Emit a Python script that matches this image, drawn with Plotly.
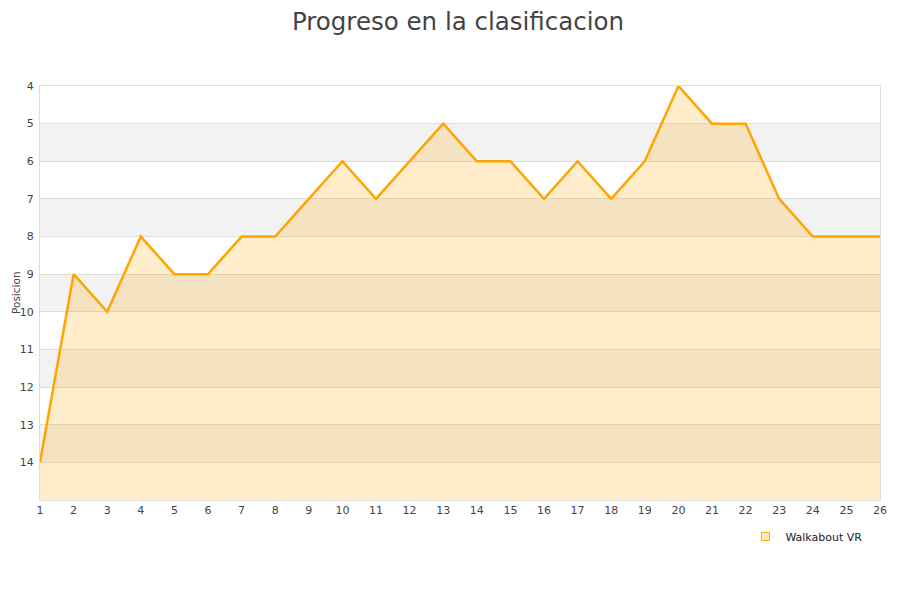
import plotly.graph_objects as go

jornadas = list(range(1, 27))
posiciones = [14, 9, 10, 8, 9, 9, 8, 8, 7, 6, 7, 6, 5, 6, 6, 7, 6, 7, 6, 4, 5, 5, 7, 8, 8, 8]
fondo = [15] * len(jornadas)
bandas = [(5, 6), (7, 8), (9, 10), (11, 12), (13, 14)]

fig = go.Figure()

# base para el relleno
fig.add_trace(
    go.Scatter(
        x=jornadas,
        y=fondo,
        mode="lines",
        line=dict(width=0),
        showlegend=False,
        hoverinfo="skip"
    )
)

fig.add_trace(
    go.Scatter(
        x=jornadas,
        y=posiciones,
        mode="lines",
        line=dict(color="#FFA500", width=2.5),
        fill="tonexty",
        fillcolor="rgba(255,165,0,0.2)",
        name="Walkabout VR",
        showlegend=False
    )
)

# entrada de leyenda con cuadrado
fig.add_trace(
    go.Scatter(
        x=[None],
        y=[None],
        mode="markers",
        marker=dict(symbol="square", size=8, color="#FFEDCC",
                    line=dict(color="#FFA500", width=1)),
        name="Walkabout VR"
    )
)

for b0, b1 in bandas:
    fig.add_shape(
        type="rect", xref="paper", yref="y",
        x0=0, x1=1, y0=b0, y1=b1,
        fillcolor="#f2f2f2", line=dict(width=0), layer="below"
    )

# titulo del eje Y
fig.add_annotation(
    text="Posicion", textangle=-90,
    xref="paper", yref="paper", x=0, y=0.5,
    xanchor="center", yanchor="middle", xshift=-24,
    showarrow=False, font=dict(size=10.5, color="#444")
)

fig.update_layout(
    width=900,
    height=600,
    paper_bgcolor="white",
    plot_bgcolor="white",
    font=dict(family="DejaVu Sans", size=11, color="#444"),
    title=dict(
        text="Progreso en la clasificacion",
        x=0.5, xanchor="center", y=0.992, yanchor="top",
        font=dict(family="DejaVu Sans", size=24.5, color="#444")
    ),
    margin=dict(l=32, r=28, t=78, b=108),
    showlegend=True,
    legend=dict(
        x=0.985, xanchor="right", y=-0.053, yanchor="top",
        font=dict(size=11, color="#222"),
        bgcolor="rgba(0,0,0,0)"
    )
)

fig.update_xaxes(
    range=[1, 26],
    tickmode="linear", dtick=1,
    showgrid=False,
    showline=True, linecolor="#ddd", mirror=True,
    ticks="", zeroline=False, automargin=False
)

fig.update_yaxes(
    range=[15, 4],
    tickmode="array", tickvals=list(range(4, 15)),
    showgrid=True, gridcolor="#ddd",
    showline=True, linecolor="#ddd", mirror=True,
    ticks="outside", ticklen=3, tickcolor="rgba(0,0,0,0)",
    zeroline=False, automargin=False
)

fig.write_html("out.html")
